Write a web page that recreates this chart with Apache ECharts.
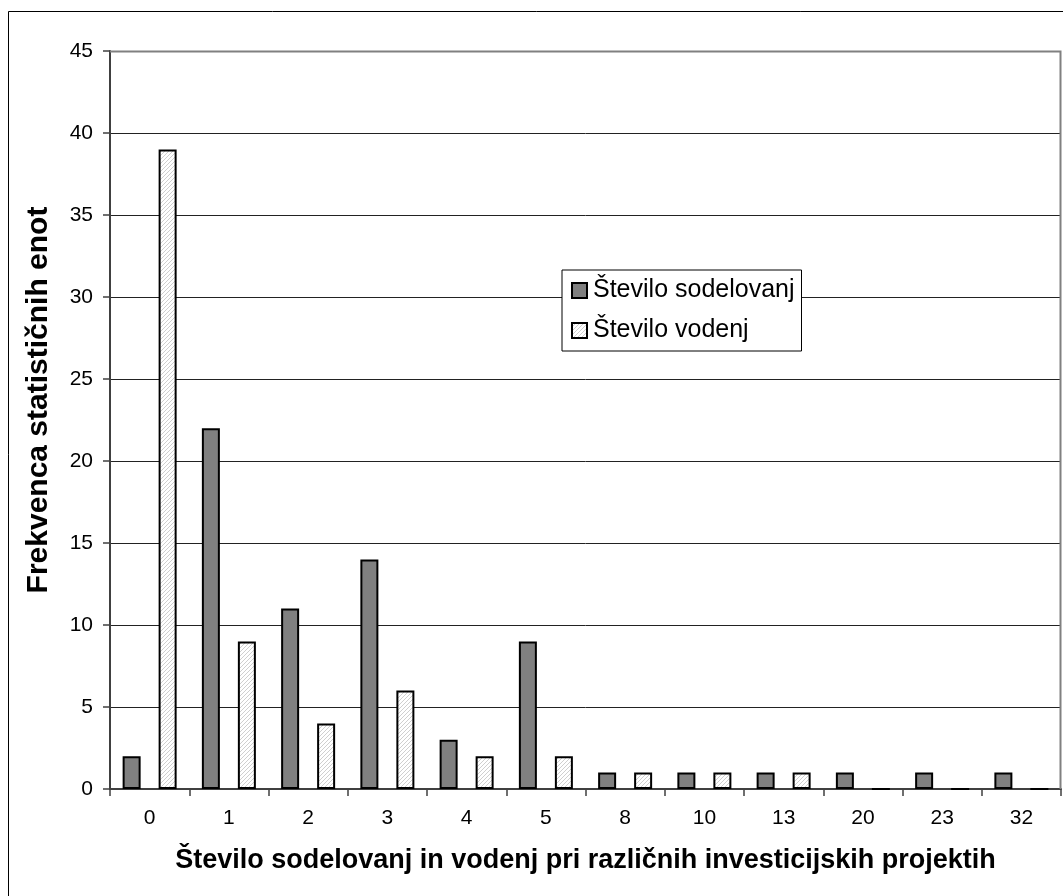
<!DOCTYPE html>
<html>
<head>
<meta charset="utf-8">
<script src="https://cdn.jsdelivr.net/npm/echarts@6/dist/echarts.min.js"></script>
<style>
  html, body { margin: 0; padding: 0; background: #fff; }
  #chart { width: 1063px; height: 896px; }
</style>
</head>
<body>
<div id="chart"></div>
<script>
// Number of participations / leaderships per project count
const categories = ['0', '1', '2', '3', '4', '5', '8', '10', '13', '20', '23', '32'];
const sodelovanj = [2, 22, 11, 14, 3, 9, 1, 1, 1, 1, 1, 1];
const vodenj = [39, 9, 4, 6, 2, 2, 1, 1, 1, 0, 0, 0];
const yTicks = { min: 0, max: 45, interval: 5 };

// Light diagonal hatch fill for the second series
function hatchPattern() {
  const c = document.createElement('canvas');
  c.width = 4; c.height = 4;
  const g = c.getContext('2d');
  g.fillStyle = '#ffffff';
  g.fillRect(0, 0, 4, 4);
  g.strokeStyle = '#cfcfcf';
  g.lineWidth = 1;
  g.beginPath();
  g.moveTo(0, 4); g.lineTo(4, 0);
  g.moveTo(-1, 1); g.lineTo(1, -1);
  g.moveTo(3, 5); g.lineTo(5, 3);
  g.stroke();
  return c;
}

const chart = echarts.init(document.getElementById('chart'), null, { renderer: 'canvas' });
const font = 'Liberation Sans, Arial, sans-serif';

chart.setOption({
  backgroundColor: '#fff',
  animation: false,
  textStyle: { fontFamily: font, color: '#000' },
  graphic: [{
    type: 'rect',
    shape: { x: 8.5, y: 11.5, width: 1100, height: 1000 },
    style: { fill: 'none', stroke: '#000', lineWidth: 1 },
    z: -1
  }, {
    // plot frame (top and right edges)
    type: 'polyline',
    shape: { points: [[110, 51.5], [1060.5, 51.5], [1060.5, 789]] },
    style: { fill: 'none', stroke: '#808080', lineWidth: 2 },
    z: 1
  }],
  grid: { left: 110, top: 51, right: 2, bottom: 107, containLabel: false },
  legend: {
    orient: 'vertical',
    left: 562,
    top: 270,
    itemWidth: 15,
    itemHeight: 15,
    itemGap: 15,
    padding: [8, 7, 8, 9],
    backgroundColor: '#fff',
    borderColor: '#000',
    borderWidth: 1,
    icon: 'rect',
    textStyle: { fontSize: 25, color: '#000', fontFamily: font, padding: [0, 0, 0, 1] },
    data: ['Število sodelovanj', 'Število vodenj']
  },
  xAxis: {
    type: 'category',
    data: categories,
    boundaryGap: true,
    name: 'Število sodelovanj in vodenj pri različnih investicijskih projektih',
    nameLocation: 'middle',
    nameGap: 58,
    nameTextStyle: { fontSize: 27, fontWeight: 'bold', color: '#000', fontFamily: font },
    axisLine: { lineStyle: { color: '#404040', width: 2 } },
    axisTick: { show: true, length: 7, alignWithLabel: false, lineStyle: { color: '#404040', width: 1.5 } },
    axisLabel: { fontSize: 21, color: '#000', margin: 19, fontFamily: font }
  },
  yAxis: {
    type: 'value',
    min: yTicks.min,
    max: yTicks.max,
    interval: yTicks.interval,
    name: 'Frekvenca statističnih enot',
    nameLocation: 'middle',
    nameGap: 56,
    nameTextStyle: { fontSize: 30, fontWeight: 'bold', color: '#000', fontFamily: font, padding: [0, 0, 0, 40] },
    axisLine: { show: true, lineStyle: { color: '#404040', width: 2 } },
    axisTick: { show: true, length: 7, lineStyle: { color: '#404040', width: 1.5 } },
    axisLabel: { fontSize: 21, color: '#000', margin: 17, fontFamily: font },
    splitLine: { show: true, lineStyle: { color: '#222', width: 1 } }
  },
  series: [{
    name: 'Število sodelovanj',
    type: 'bar',
    data: sodelovanj,
    barWidth: 18,
    barGap: '100%',
    itemStyle: { color: '#808080', borderColor: '#000', borderWidth: 2 }
  }, {
    name: 'Število vodenj',
    type: 'bar',
    data: vodenj,
    barWidth: 18,
    barGap: '100%',
    itemStyle: {
      color: { image: hatchPattern(), repeat: 'repeat' },
      borderColor: '#000',
      borderWidth: 2
    }
  }]
});
</script>
</body>
</html>
